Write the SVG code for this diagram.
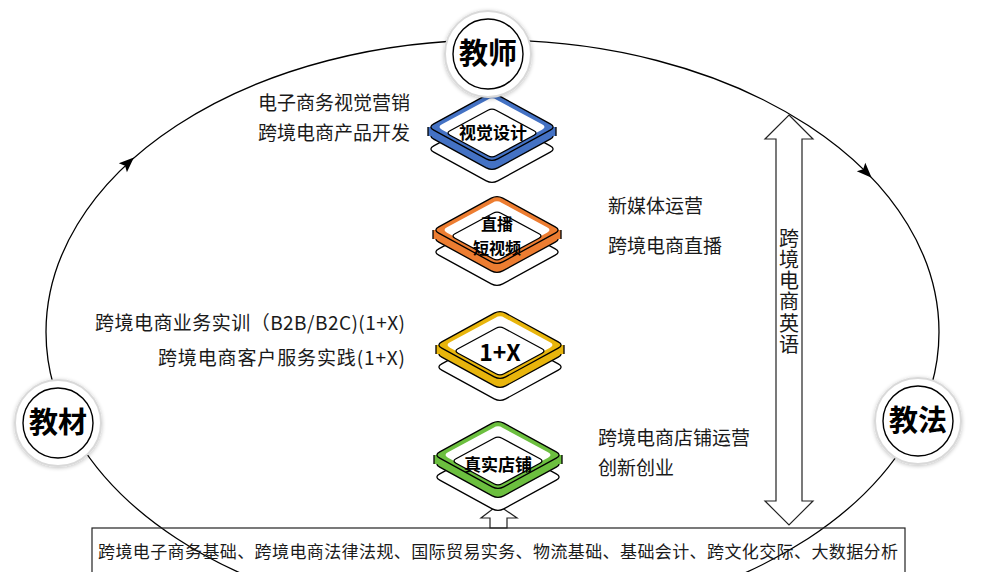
<svg xmlns="http://www.w3.org/2000/svg" width="1006" height="572" viewBox="0 0 1006 572">
<style>
text{font-family:"Noto Sans CJK SC","Noto Sans",sans-serif;fill:#1a1a1a}
.lbl{font-size:19px}
.vt{font-size:20px;letter-spacing:1.3px}
.big{font-size:29px;font-weight:bold;fill:#000}
.ico{font-size:17px;font-weight:bold;fill:#000}
.ln{fill:none;stroke:#000;stroke-width:1.3}
.ring{fill:#fff;stroke:#d9d9d9;stroke-width:2}
.inner{fill:#fff;stroke:#000;stroke-width:1.4}
.blk{stroke:#000;stroke-width:1.3;stroke-linejoin:round}
</style>
<defs>
<filter id="sh" x="-20%" y="-20%" width="140%" height="140%"><feGaussianBlur in="SourceAlpha" stdDeviation="2"/><feOffset dy="1"/><feComponentTransfer><feFuncA type="linear" slope="0.25"/></feComponentTransfer><feMerge><feMergeNode/><feMergeNode in="SourceGraphic"/></feMerge></filter>
<g id="icon">
<path class="blk" fill="#fff" d="M-58.24,18.85 L-5.76,-9.85 Q0,-13 5.76,-9.85 L58.24,18.85 Q64,22 58.24,25.15 L5.76,53.85 Q0,57 -5.76,53.85 L-58.24,25.15 Q-64,22 -58.24,18.85Z"/>
<path class="blk" fill="currentColor" d="M-58.24,5.85 L-5.76,-22.85 Q0,-26 5.76,-22.85 L58.24,5.85 Q64,9 58.24,12.15 L5.76,40.85 Q0,44 -5.76,40.85 L-58.24,12.15 Q-64,9 -58.24,5.85Z"/>
<rect x="-64" y="0" width="128" height="9" fill="currentColor"/>
<path d="M-64,0 V9 M64,0 V9" stroke="#000" stroke-width="1.3"/>
<path class="blk" fill="currentColor" d="M-58.24,-3.15 L-5.76,-31.85 Q0,-35 5.76,-31.85 L58.24,-3.15 Q64,0 58.24,3.15 L5.76,31.85 Q0,35 -5.76,31.85 L-58.24,3.15 Q-64,0 -58.24,-3.15Z"/>
<path fill="#fff" d="M-50,-2.7 L-4.5,-27.3 Q0,-30 4.5,-27.3 L50,-2.7 Q55,0 50,2.7 L4.5,27.3 Q0,30 -4.5,27.3 L-50,2.7 Q-55,0 -50,-2.7Z"/>
<path class="blk" fill="#fff" d="M-42,3.8 L-4,-16.8 Q0,-19 4,-16.8 L42,3.8 Q46,6 42,8.2 L4,28.8 Q0,31 -4,28.8 L-42,8.2 Q-46,6 -42,3.8Z"/>
</g>
<path id="ah" d="M8,0 L-7,-6 L-4,0 L-7,6 Z" fill="#000"/>
</defs>

<g id="connectors">
<ellipse class="ln" cx="492.5" cy="332" rx="446.5" ry="292"/>
<use href="#ah" transform="translate(128,163) rotate(-42.7)"/>
<use href="#ah" transform="translate(866,172) rotate(45)"/>
<path d="M789,115 L813,139 L802,139 L802,501 L813,501 L789,525 L765,501 L776,501 L776,139 L765,139 Z" fill="#fff" stroke="#222" stroke-width="1.2"/>
<path d="M498,505 L517,518 L507,518 L507,528 L490,528 L490,518 L481,518 Z" fill="#fff" stroke="#222" stroke-width="1.2"/>
</g>

<g id="vertical-label">
<text class="vt" x="789" y="228" writing-mode="vertical-rl">跨境电商英语</text>
</g>

<g id="node-shijue" color="#4472C4">
<use href="#icon" transform="translate(492,127)"/>
<text class="ico" x="493" y="139" text-anchor="middle">视觉设计</text>
</g>
<g id="node-zhibo" color="#ED7D31">
<use href="#icon" transform="translate(497,230)"/>
<text class="ico" text-anchor="middle" style="font-size:16px"><tspan x="497" y="230">直播</tspan><tspan x="497" y="254">短视频</tspan></text>
</g>
<g id="node-1x" color="#E8B50C">
<use href="#icon" transform="translate(500,345)"/>
<text x="500" y="361" text-anchor="middle" style="font-size:23px;font-weight:bold;fill:#000">1+X</text>
</g>
<g id="node-dianpu" color="#6CBF3F">
<use href="#icon" transform="translate(498,455)"/>
<text class="ico" x="498" y="471" text-anchor="middle">真实店铺</text>
</g>

<g id="node-jiaoshi">
<circle class="ring" cx="488" cy="54" r="43" filter="url(#sh)"/>
<circle class="inner" cx="488" cy="54" r="35"/>
<text class="big" x="488" y="64" text-anchor="middle">教师</text>
</g>
<g id="node-jiaocai">
<circle class="ring" cx="58" cy="423" r="43" filter="url(#sh)"/>
<circle class="inner" cx="58" cy="423" r="35"/>
<text class="big" x="58" y="433" text-anchor="middle">教材</text>
</g>
<g id="node-jiaofa">
<circle class="ring" cx="918" cy="421" r="43" filter="url(#sh)"/>
<circle class="inner" cx="918" cy="421" r="35"/>
<text class="big" x="918" y="431" text-anchor="middle">教法</text>
</g>

<g id="labels">
<text class="lbl" x="258" y="110">电子商务视觉营销</text>
<text class="lbl" x="258" y="140">跨境电商产品开发</text>
<text class="lbl" x="608" y="213">新媒体运营</text>
<text class="lbl" x="608" y="253">跨境电商直播</text>
<text class="lbl" x="95" y="330" textLength="310">跨境电商业务实训（B2B/B2C)(1+X)</text>
<text class="lbl" x="158" y="365" textLength="247">跨境电商客户服务实践(1+X)</text>
<text class="lbl" x="598" y="445">跨境电商店铺运营</text>
<text class="lbl" x="598" y="475">创新创业</text>
</g>

<g id="node-base">
<rect x="92" y="528" width="813" height="60" fill="none" stroke="#222" stroke-width="1.2"/>
<text x="98" y="558" textLength="800" style="font-size:17px">跨境电子商务基础、跨境电商法律法规、国际贸易实务、物流基础、基础会计、跨文化交际、大数据分析</text>
</g>
</svg>
